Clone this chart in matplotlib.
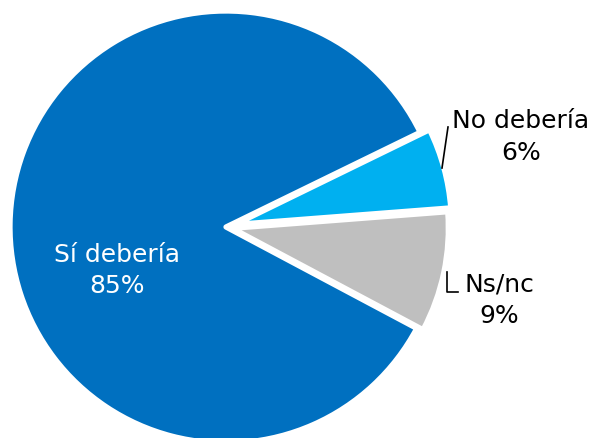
import matplotlib
matplotlib.use("Agg")
import matplotlib.pyplot as plt

# datos de la encuesta
labels = ["Sí debería", "No debería", "Ns/nc"]
values = [85, 6, 9]
colors = ["#0070C0", "#00B0F0", "#BFBFBF"]
explode = [0.0, 0.045, 0.03]   # fraccion del radio

W, H = 590, 438
fig = plt.figure(figsize=(W / 100, H / 100), dpi=100)
ax = fig.add_axes([0, 0, 1, 1])

cx, cy, r = 226, H - 227, 216
# ojo: en pie() el explode va en unidades de datos, no relativo al radio
ax.pie(values, colors=colors, explode=[e * r for e in explode], startangle=-28,
       counterclock=False, center=(cx, cy), radius=r,
       wedgeprops=dict(edgecolor="white", linewidth=3.8, joinstyle="round"))

ax.set_xlim(0, W)
ax.set_ylim(0, H)
ax.set_aspect("equal")
ax.axis("off")

fs = 18
font = "DejaVu Sans"
# etiquetas (posiciones en pixeles, y desde arriba)
lab_pos = [(117, 262, 293, "white"), (521, 128, 160, "black"), (499, 292, 323, "black")]
for lab, val, (x, y1, y2, c) in zip(labels, values, lab_pos):
    ax.text(x, H - y1, lab, ha="center", va="baseline", fontsize=fs, color=c, family=font)
    ax.text(x, H - y2, f"{val}%", ha="center", va="baseline", fontsize=fs, color=c, family=font)

# lineas guia
ax.plot([442, 448], [H - 168, H - 127], color="black", lw=1.2)
ax.plot([447, 447, 458], [H - 272, H - 292, H - 292], color="black", lw=1.2)

fig.savefig("out.png", dpi=100)
